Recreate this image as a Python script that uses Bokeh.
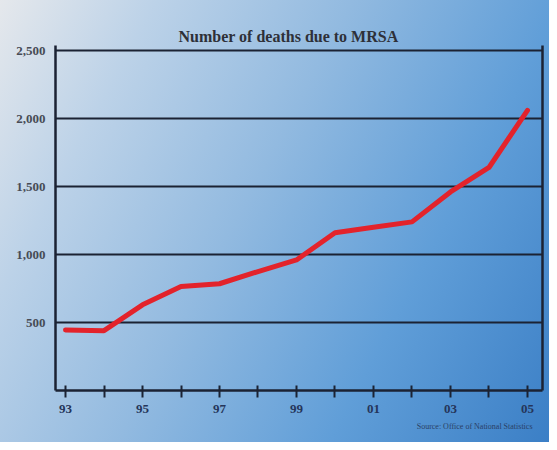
from bokeh.plotting import figure
from bokeh.models import FixedTicker, LinearAxis, Title, Range1d
from bokeh.embed import file_html
from bokeh.resources import INLINE

years = [1993, 1994, 1995, 1996, 1997, 1998, 1999, 2000, 2001, 2002, 2003, 2004, 2005]
deaths = [445, 440, 630, 765, 785, 875, 960, 1160, 1200, 1240, 1460, 1640, 2060]
y_ticks = [500, 1000, 1500, 2000, 2500]
y_labels = ["500", "1,000", "1,500", "2,000", "2,500"]
x_labels = {1993: "93", 1995: "95", 1997: "97", 1999: "99", 2001: "01", 2003: "03", 2005: "05"}

title_text = "Number of deaths due to MRSA"
source_text = "Source: Office of National Statistics"

serif = "Liberation Serif"
axis_col = "#1b2233"

p = figure(width=549, height=442, output_backend="svg", toolbar_location=None,
           x_range=Range1d(1992.74, 2005.39), y_range=Range1d(0, 2537),
           min_border_left=55, min_border_right=7, min_border_top=45, min_border_bottom=52)

p.styles = {"background": "linear-gradient(118deg, #e5e8ec 0%, #bcd2e8 20%, #92bae0 45%, #609ed8 72%, #3b7fc6 100%)"}
p.border_fill_alpha = 0
p.background_fill_alpha = 0
p.outline_line_color = None

p.title.text = title_text
p.title.align = "left"
p.title.offset = 123
p.title.text_font = serif
p.title.text_font_size = "16px"
p.title.text_font_style = "bold"
p.title.text_color = "#2e3038"
p.title.standoff = 2

# x axis
xa = p.xaxis[0]
xa.ticker = FixedTicker(ticks=years)
xa.major_label_overrides = {y: x_labels.get(y, "") for y in years}
xa.minor_tick_line_color = None
xa.major_tick_in = 5
xa.major_tick_out = 7
xa.major_tick_line_width = 2
xa.major_tick_line_color = axis_col
xa.axis_line_width = 2.5
xa.axis_line_color = axis_col
xa.major_label_text_font = serif
xa.major_label_text_font_style = "bold"
xa.major_label_text_font_size = "13px"
xa.major_label_text_color = "#25355a"
xa.major_label_standoff = 7

# y axis
ya = p.yaxis[0]
ya.ticker = FixedTicker(ticks=y_ticks)
ya.major_label_overrides = dict(zip(y_ticks, y_labels))
ya.minor_tick_line_color = None
ya.major_tick_in = 0
ya.major_tick_out = 0
ya.axis_line_width = 2.5
ya.axis_line_color = axis_col
ya.major_label_text_font = serif
ya.major_label_text_font_style = "bold"
ya.major_label_text_font_size = "13px"
ya.major_label_text_color = "#474b55"
ya.major_label_standoff = 10

# right border
ra = LinearAxis(ticker=FixedTicker(ticks=[]), major_label_text_font_size="0px",
                axis_line_width=2.5, axis_line_color=axis_col,
                major_tick_line_color=None, minor_tick_line_color=None)
p.add_layout(ra, "right")

p.xgrid.grid_line_color = None
p.ygrid.ticker = FixedTicker(ticks=y_ticks)
p.ygrid.grid_line_color = axis_col
p.ygrid.grid_line_width = 2

p.line(years, deaths, line_color="#e3232b", line_width=5, line_cap="round", line_join="round")

src = Title(text=source_text, align="right", offset=10, text_font=serif,
            text_font_size="8px", text_font_style="normal", text_color="#2a3f66", standoff=9)
p.add_layout(src, "below")

open("out.html", "w").write(file_html(p, INLINE))
